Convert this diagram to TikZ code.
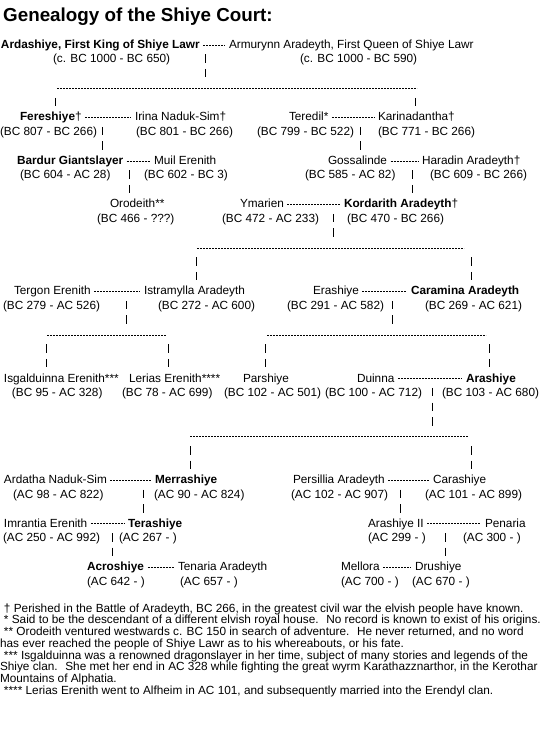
\documentclass[tikz,border=0pt]{standalone}
\usepackage{fontspec}
\setmainfont{Liberation Sans}
\newcommand\chartfont{\fontsize{11.8}{14}\selectfont}
\newcommand\notefont{\fontsize{11.8}{12}\selectfont}
\newcommand\marr[2]{\draw[hy] ([shift={(3.5pt,3.3pt)}]#1.base east) -- ([shift={(-3.8pt,3.3pt)}]#2.base west);}
\newcommand\pipeseg[4]{\coordinate (#1t) at ([yshift=4.25pt]#2.5,#3); \coordinate (#1b) at ([yshift=-4.25pt]#2.5,#4); \draw[pp] (#1t) -- (#1b);}
\newcommand\sibline[4]{\coordinate (#1l) at ([yshift=-1pt]#2,#4); \coordinate (#1r) at ([yshift=-1pt]#3,#4); \draw[hy] (#1l) -- (#1r);}
\begin{document}
\begin{tikzpicture}[x=1pt,y=-14.51pt,
  t/.style={anchor=base west, inner sep=0pt, outer sep=0pt, yshift=-4.3pt, font=\chartfont},
  tb/.style={t, font=\chartfont\bfseries},
  hy/.style={line width=1pt, dash pattern=on 2pt off 1pt},
  pp/.style={line width=1pt, dash pattern=on 8.5pt off 6.01pt},
  note/.style={anchor=base west, inner sep=0pt, outer sep=0pt, font=\notefont}]
\useasboundingbox[fill=white] (0pt,0pt) rectangle (548pt,-747pt);
\node[anchor=base west, inner sep=0pt, font=\fontsize{18.8}{20}\selectfont\bfseries] (title) at (3pt,-21.8pt) {Genealogy of the Shiye Court:};
\begin{scope}[yshift=-29.49pt]
% generation 1
\node[tb] (ard) at (1,1) {Ardashiye, First King of Shiye Lawr};
\node[t] (arm) at (229,1) {Armurynn Aradeyth, First Queen of Shiye Lawr};
\node[t] (ardd) at (53,2) {(c. BC 1000 - BC 650)};
\node[t] (armd) at (300,2) {(c. BC 1000 - BC 590)};
\marr{ard}{arm}
\pipeseg{k1}{205}{2}{3}
\sibline{s1}{57}{417}{4}
\pipeseg{k2}{55}{5}{5}
\pipeseg{k3}{415}{5}{5}
% generation 2
\node[t] (fer) at (20,6) {\textbf{Fereshiye}†};
\node[t] (iri) at (135,6) {Irina Naduk-Sim†};
\node[t] (ted) at (289,6) {Teredil*};
\node[t] (kar) at (378,6) {Karinadantha†};
\node[t] (ferd) at (0,7) {(BC 807 - BC 266)};
\node[t] (irid) at (136,7) {(BC 801 - BC 266)};
\node[t] (tedd) at (257,7) {(BC 799 - BC 522)};
\node[t] (kard) at (378,7) {(BC 771 - BC 266)};
\marr{fer}{iri}
\marr{ted}{kar}
\pipeseg{k4}{102}{7}{8}
\pipeseg{k5}{360}{7}{8}
% generation 3
\node[tb] (bar) at (17,9) {Bardur Giantslayer};
\node[t] (mui) at (154,9) {Muil Erenith};
\node[t] (gos) at (328,9) {Gossalinde};
\node[t] (har) at (422,9) {Haradin Aradeyth†};
\node[t] (bard) at (20,10) {(BC 604 - AC 28)};
\node[t] (muid) at (144,10) {(BC 602 - BC 3)};
\node[t] (gosd) at (305,10) {(BC 585 - AC 82)};
\node[t] (hard) at (430,10) {(BC 609 - BC 266)};
\marr{bar}{mui}
\marr{gos}{har}
\pipeseg{k6}{129}{10}{11}
\pipeseg{k7}{412}{10}{11}
% generation 4
\node[t] (oro) at (110,12) {Orodeith**};
\node[t] (yma) at (240,12) {Ymarien};
\node[t] (kor) at (344,12) {\textbf{Kordarith Aradeyth}†};
\node[t] (orod) at (97,13) {(BC 466 - ???)};
\node[t] (ymad) at (222,13) {(BC 472 - AC 233)};
\node[t] (kord) at (347,13) {(BC 470 - BC 266)};
\marr{yma}{kor}
\pipeseg{k8}{333}{13}{14}
\sibline{s2}{197}{464}{15}
\pipeseg{k9}{196}{16}{17}
\pipeseg{k10}{471}{16}{17}
% generation 5
\node[t] (tgr) at (14,18) {Tergon Erenith};
\node[t] (ist) at (144,18) {Istramylla Aradeyth};
\node[t] (era) at (313,18) {Erashiye};
\node[tb] (car) at (411,18) {Caramina Aradeyth};
\node[t] (tgrd) at (3,19) {(BC 279 - AC 526)};
\node[t] (istd) at (158,19) {(BC 272 - AC 600)};
\node[t] (erad) at (287,19) {(BC 291 - AC 582)};
\node[t] (card) at (425,19) {(BC 269 - AC 621)};
\marr{tgr}{ist}
\marr{era}{car}
\pipeseg{k11}{126}{19}{20}
\pipeseg{k12}{392}{19}{20}
\sibline{s3}{47}{166}{21}
\sibline{s4}{267}{486}{21}
\pipeseg{k13}{46}{22}{23}
\pipeseg{k14}{168}{22}{23}
\pipeseg{k15}{265}{22}{23}
\pipeseg{k16}{489}{22}{23}
% generation 6
\node[t] (isg) at (4,24) {Isgalduinna Erenith***};
\node[t] (ler) at (129,24) {Lerias Erenith****};
\node[t] (par) at (243,24) {Parshiye};
\node[t] (dui) at (357,24) {Duinna};
\node[tb] (ara) at (466,24) {Arashiye};
\node[t] (isgd) at (12,25) {(BC 95 - AC 328)};
\node[t] (lerd) at (122,25) {(BC 78 - AC 699)};
\node[t] (pard) at (224,25) {(BC 102 - AC 501)};
\node[t] (duid) at (325,25) {(BC 100 - AC 712)};
\node[t] (arad) at (442,25) {(BC 103 - AC 680)};
\marr{dui}{ara}
\pipeseg{k17}{432}{25}{27}
\sibline{s5}{190}{468}{28}
\pipeseg{k18}{190}{29}{30}
\pipeseg{k19}{471}{29}{30}
% generation 7
\node[t] (adt) at (4,31) {Ardatha Naduk-Sim};
\node[tb] (mer) at (155,31) {Merrashiye};
\node[t] (per) at (293,31) {Persillia Aradeyth};
\node[t] (crs) at (433,31) {Carashiye};
\node[t] (adtd) at (13,32) {(AC 98 - AC 822)};
\node[t] (merd) at (154,32) {(AC 90 - AC 824)};
\node[t] (perd) at (291,32) {(AC 102 - AC 907)};
\node[t] (crsd) at (425,32) {(AC 101 - AC 899)};
\marr{adt}{mer}
\marr{per}{crs}
\pipeseg{k20}{143}{32}{33}
\pipeseg{k21}{400}{32}{33}
% generation 8
\node[t] (imr) at (4,34) {Imrantia Erenith};
\node[tb] (trs) at (128,34) {Terashiye};
\node[t] (ar2) at (368,34) {Arashiye II};
\node[t] (pen) at (485,34) {Penaria};
\node[t] (imrd) at (3,35) {(AC 250 - AC 992)};
\node[t] (trsd) at (119,35) {(AC 267 - )};
\node[t] (ar2d) at (368,35) {(AC 299 - )};
\node[t] (pend) at (463,35) {(AC 300 - )};
\marr{imr}{trs}
\marr{ar2}{pen}
\pipeseg{k22}{112}{35}{36}
\pipeseg{k23}{445}{35}{36}
% generation 9
\node[tb] (acr) at (87,37) {Acroshiye};
\node[t] (ten) at (178,37) {Tenaria Aradeyth};
\node[t] (mel) at (341,37) {Mellora};
\node[t] (dru) at (415,37) {Drushiye};
\node[t] (acrd) at (87,38) {(AC 642 - )};
\node[t] (tend) at (180,38) {(AC 657 - )};
\node[t] (meld) at (341,38) {(AC 700 - )};
\node[t] (drud) at (412,38) {(AC 670 - )};
\marr{acr}{ten}
\marr{mel}{dru}
\end{scope}
% footnotes
\node[note] (fn1) at (4pt,-612.2pt) {† Perished in the Battle of Aradeyth, BC 266, in the greatest civil war the elvish people have known.};
\node[note] (fn2) at (4pt,-623.9pt) {* Said to be the descendant of a different elvish royal house.~ No record is known to exist of his origins.};
\node[note] (fn3) at (4pt,-635.6pt) {** Orodeith ventured westwards c. BC 150 in search of adventure.~ He never returned, and no word};
\node[note] (fn4) at (0pt,-647.3pt) {has ever reached the people of Shiye Lawr as to his whereabouts, or his fate.};
\node[note] (fn5) at (4pt,-659.0pt) {*** Isgalduinna was a renowned dragonslayer in her time, subject of many stories and legends of the};
\node[note] (fn6) at (0pt,-670.7pt) {Shiye clan.~ She met her end in AC 328 while fighting the great wyrm Karathazznarthor, in the Kerothar};
\node[note] (fn7) at (0pt,-682.4pt) {Mountains of Alphatia.};
\node[note] (fn8) at (4pt,-694.1pt) {**** Lerias Erenith went to Alfheim in AC 101, and subsequently married into the Erendyl clan.};
\end{tikzpicture}
\end{document}
